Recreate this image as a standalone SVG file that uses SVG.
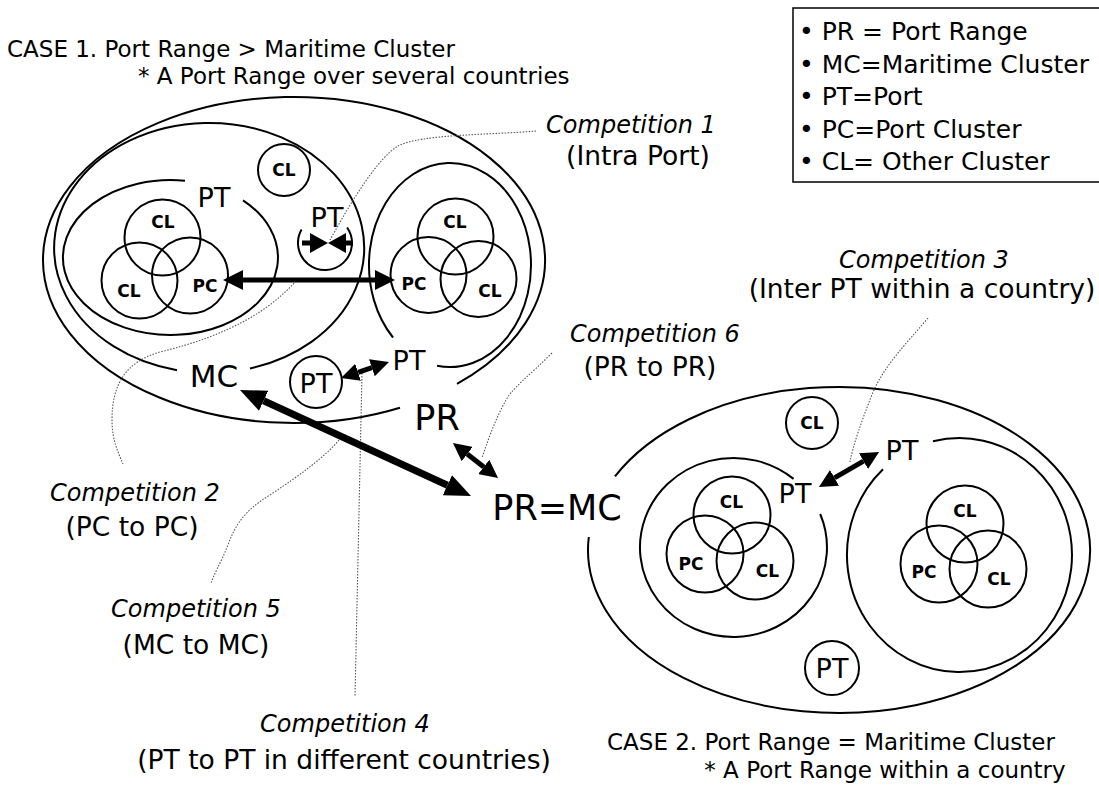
<svg xmlns="http://www.w3.org/2000/svg" width="1099" height="801" viewBox="0 0 1099 801">
<style>
.ln{fill:none;stroke:#000;stroke-width:2}
.t{font-family:"DejaVu Sans","Liberation Sans",sans-serif;fill:#000}
.m{text-anchor:middle}
.big{font-size:27px}
.sm{font-size:17px;font-weight:bold}
.cmp{font-size:24px;font-style:italic}
.par{font-size:26.5px}
.ttl{font-size:23px}
.leg{font-size:25px}
.lead{fill:none;stroke:#555;stroke-width:1.1;stroke-dasharray:1.5 1.5}
.ar{fill:none;stroke:#000}
</style>
<defs>
<marker id="hL" markerUnits="userSpaceOnUse" markerWidth="20" markerHeight="20" viewBox="0 0 20 20" refX="0" refY="10" orient="auto-start-reverse"><path d="M0,0 L20,10 L0,20 z" fill="#000"/></marker>
<marker id="hX" markerUnits="userSpaceOnUse" markerWidth="26" markerHeight="22" viewBox="0 0 26 22" refX="0" refY="11" orient="auto-start-reverse"><path d="M0,0 L26,11 L0,22 z" fill="#000"/></marker>
<marker id="hM" markerUnits="userSpaceOnUse" markerWidth="18" markerHeight="18" viewBox="0 0 18 18" refX="0" refY="9" orient="auto-start-reverse"><path d="M0,0 L18,9 L0,18 z" fill="#000"/></marker>
<marker id="hS" markerUnits="userSpaceOnUse" markerWidth="18" markerHeight="20" viewBox="0 0 18 20" refX="0" refY="10" orient="auto"><path d="M0,0 L18,10 L0,20 z" fill="#000"/></marker>
</defs>
<rect width="1099" height="801" fill="#fff"/>

<g id="titles">
<text class="t ttl" x="7" y="57">CASE 1. Port Range &gt; Maritime Cluster</text>
<text class="t ttl" x="138" y="84">* A Port Range over several countries</text>
<text class="t ttl" x="607" y="750">CASE 2. Port Range = Maritime Cluster</text>
<text class="t ttl m" x="885" y="778">* A Port Range within a country</text>
</g>

<g id="legend">
<rect x="793" y="8" width="320" height="174" fill="none" stroke="#000" stroke-width="1.5"/>
<text class="t leg" x="799" y="40">• PR = Port Range</text>
<text class="t leg" x="799" y="72.5">• MC=Maritime Cluster</text>
<text class="t leg" x="799" y="105">• PT=Port</text>
<text class="t leg" x="799" y="137.5">• PC=Port Cluster</text>
<text class="t leg" x="799" y="170">• CL= Other Cluster</text>
</g>

<g id="case1">
<g id="pr1"><path class="ln" d="M400,407.7 A251,163 0 1,1 457,383.9"/><text class="t m" x="437" y="430" font-size="35">PR</text></g>
<g id="mc1"><path class="ln" d="M177,370.2 A155,125 0 1,1 250,368.5"/><text class="t m" x="214" y="387" font-size="31">MC</text></g>
<g id="pt1a"><path class="ln" d="M243,200.3 A107.5,77.5 0 1,1 185,180.7"/><text class="t m big" x="214" y="207">PT</text></g>
<g id="pt1b"><path class="ln" d="M437,365.7 A81,102 0 1,0 393,337.5"/><text class="t m big" x="409" y="370">PT</text></g>
<g id="cl1"><circle class="ln" cx="284" cy="170" r="26"/><text class="t m sm" x="284" y="176">CL</text></g>
<g id="pt1c"><path class="ln" d="M347.1,227.5 A27,27 0 1,1 301.6,229.5"/><text class="t m big" x="327" y="227">PT</text></g>
<g id="pt1d"><circle class="ln" cx="316" cy="382" r="26"/><text class="t m big" x="316" y="393">PT</text></g>
<g id="cluster1a">
<circle class="ln" cx="162.5" cy="237.5" r="38"/>
<circle class="ln" cx="139.5" cy="280.5" r="38"/>
<circle class="ln" cx="190" cy="275.5" r="38"/>
<text class="t m sm" x="163" y="228">CL</text>
<text class="t m sm" x="129" y="297">CL</text>
<text class="t m sm" x="205" y="292">PC</text>
</g>
<g id="cluster1b">
<circle class="ln" cx="455.5" cy="236.5" r="38"/>
<circle class="ln" cx="428.5" cy="275" r="38"/>
<circle class="ln" cx="478.5" cy="279" r="38"/>
<text class="t m sm" x="455" y="228">CL</text>
<text class="t m sm" x="414" y="290">PC</text>
<text class="t m sm" x="490" y="297">CL</text>
</g>
</g>

<g id="case2">
<g id="pr2"><path class="ln" d="M615,476.4 A251,163 0 1,1 588.8,537"/><text class="t m" x="557" y="520" font-size="35">PR=MC</text></g>
<g id="pt2a"><path class="ln" d="M820.2,514 A93.5,89.5 0 1,1 793.6,478.9"/><text class="t m big" x="795" y="503">PT</text></g>
<g id="pt2b"><path class="ln" d="M933,441.3 A112.5,117 0 1,1 883,469.2"/><text class="t m big" x="902" y="460">PT</text></g>
<g id="cl2"><circle class="ln" cx="812" cy="423" r="26"/><text class="t m sm" x="812" y="429">CL</text></g>
<g id="pt2c"><circle class="ln" cx="832" cy="668" r="27"/><text class="t m big" x="832" y="678">PT</text></g>
<g id="cluster2a">
<circle class="ln" cx="732" cy="515" r="38.5"/>
<circle class="ln" cx="705" cy="554" r="38.5"/>
<circle class="ln" cx="755" cy="561" r="38.5"/>
<text class="t m sm" x="731.5" y="508">CL</text>
<text class="t m sm" x="691" y="570">PC</text>
<text class="t m sm" x="767.5" y="577">CL</text>
</g>
<g id="cluster2b">
<circle class="ln" cx="965" cy="524" r="38.5"/>
<circle class="ln" cx="939" cy="564" r="38.5"/>
<circle class="ln" cx="988" cy="569" r="38.5"/>
<text class="t m sm" x="965" y="517">CL</text>
<text class="t m sm" x="924" y="578">PC</text>
<text class="t m sm" x="999" y="585">CL</text>
</g>
</g>

<g id="labels">
<text class="t m cmp" x="631" y="133">Competition 1</text>
<text class="t m par" x="638" y="165">(Intra Port)</text>
<text class="t m cmp" x="924" y="268">Competition 3</text>
<text class="t m par" x="922" y="298">(Inter PT within a country)</text>
<text class="t m cmp" x="655" y="342">Competition 6</text>
<text class="t m par" x="650" y="376">(PR to PR)</text>
<text class="t m cmp" x="135" y="501">Competition 2</text>
<text class="t m par" x="132" y="536">(PC to PC)</text>
<text class="t m cmp" x="196" y="617">Competition 5</text>
<text class="t m par" x="196" y="654">(MC to MC)</text>
<text class="t m cmp" x="345" y="732">Competition 4</text>
<text class="t m par" x="344" y="769">(PT to PT in different countries)</text>
</g>

<g id="connectors">
<path class="lead" d="M536,131 C490,135 420,134 398,146 C378,158 352,200 330,240"/>
<path class="lead" d="M296,281 C270,310 230,335 160,352 C125,362 112,385 112,420 C112,440 118,452 123,464"/>
<path class="lead" d="M928,318 C905,345 885,365 873,392 C862,420 853,445 850,462"/>
<path class="lead" d="M362,373 L355,697"/>
<path class="lead" d="M339,440 C325,457 300,475 270,495 C245,510 235,525 228,545 C220,565 213,575 211,584"/>
<path class="lead" d="M552,353 C530,375 510,390 505,402 C495,420 488,440 482,458"/>
<line class="ar" x1="243" y1="280" x2="375" y2="280" stroke-width="5" marker-start="url(#hL)" marker-end="url(#hL)"/>
<line class="ar" x1="263.6" y1="400.8" x2="447.4" y2="485.2" stroke-width="7" marker-start="url(#hX)" marker-end="url(#hX)"/>
<line class="ar" x1="467.2" y1="454.1" x2="483.8" y2="466.9" stroke-width="5" marker-start="url(#hM)" marker-end="url(#hM)"/>
<line class="ar" x1="358.1" y1="372.3" x2="371.9" y2="367.7" stroke-width="5" marker-start="url(#hM)" marker-end="url(#hM)"/>
<line class="ar" x1="834.5" y1="477.9" x2="863.5" y2="461.1" stroke-width="5" marker-start="url(#hM)" marker-end="url(#hM)"/>
<path class="ar" d="M302,243 L310,243" stroke-width="5" marker-end="url(#hS)"/>
<path class="ar" d="M353,243 L346,243" stroke-width="5" marker-end="url(#hS)"/>
</g>
</svg>
